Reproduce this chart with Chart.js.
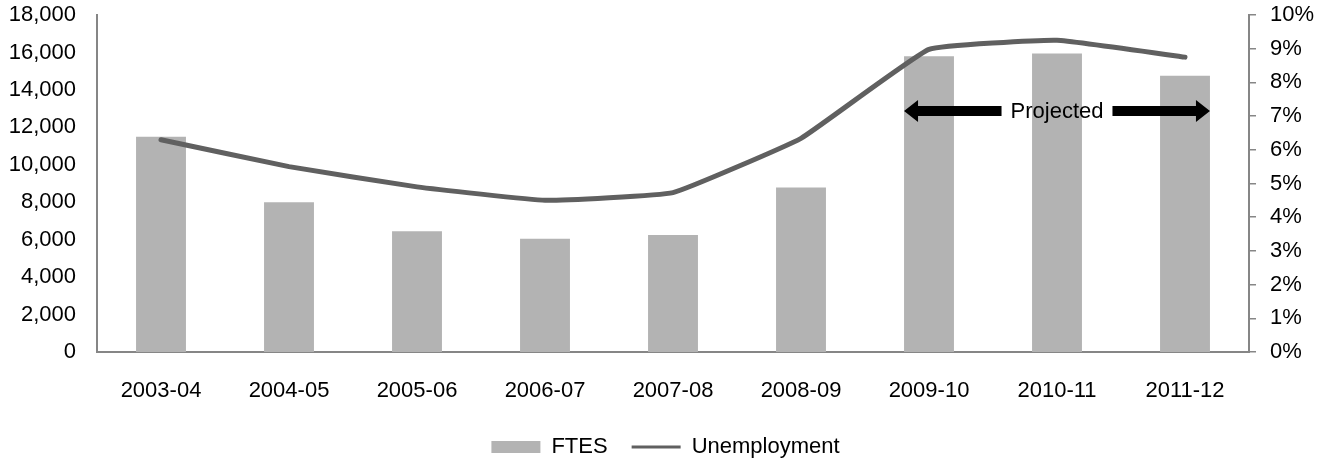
<!DOCTYPE html>
<html>
<head>
<meta charset="utf-8">
<script src="https://cdn.jsdelivr.net/npm/chart.js@4/dist/chart.umd.min.js"></script>
<style>
  html, body { margin: 0; padding: 0; background: #fff; }
  #wrap { width: 1331px; height: 461px; }
</style>
</head>
<body>
<div id="wrap"><canvas id="grafica" width="1331" height="461"></canvas></div>
<script>
// Datos
const anios = ['2003-04', '2004-05', '2005-06', '2006-07', '2007-08', '2008-09', '2009-10', '2010-11', '2011-12'];
const ftes = [11500, 8000, 6450, 6050, 6250, 8780, 15800, 15950, 14750];
const desempleo = [6.3, 5.5, 4.9, 4.5, 4.73, 6.34, 8.98, 9.25, 8.75];
const inicioProyectado = 6;   // primer año proyectado
const finProyectado = 8;      // último año proyectado
const alturaFlecha = 7.15;    // en el eje de desempleo

const GRIS_EJE = '#868686';
const fuente = { family: 'Liberation Sans, Arial, sans-serif', size: 22 };

// Flechas "Projected" sobre los años proyectados
const flechas = {
    id: 'flechas',
    afterDatasetsDraw(chart) {
        const ctx = chart.ctx;
        const y1 = chart.scales.y1;
        const barras = chart.getDatasetMeta(0).data;
        const x0 = barras[inicioProyectado].x - barras[inicioProyectado].width / 2;
        const x1 = barras[finProyectado].x + barras[finProyectado].width / 2;
        const y = y1.getPixelForValue(alturaFlecha);
        const medio = (x0 + x1) / 2;

        ctx.save();
        ctx.font = '22px Liberation Sans, Arial, sans-serif';
        ctx.textAlign = 'center';
        ctx.textBaseline = 'middle';
        const ancho = ctx.measureText('Projected').width;
        const hueco = 9, cabeza = 14, alto = 11, grosor = 5;

        ctx.fillStyle = '#000';
        // flecha izquierda
        const finIzq = medio - ancho / 2 - hueco;
        ctx.beginPath();
        ctx.moveTo(x0, y);
        ctx.lineTo(x0 + cabeza, y - alto);
        ctx.lineTo(x0 + cabeza, y - grosor);
        ctx.lineTo(finIzq, y - grosor);
        ctx.lineTo(finIzq, y + grosor);
        ctx.lineTo(x0 + cabeza, y + grosor);
        ctx.lineTo(x0 + cabeza, y + alto);
        ctx.closePath();
        ctx.fill();
        // flecha derecha
        const iniDer = medio + ancho / 2 + hueco;
        ctx.beginPath();
        ctx.moveTo(x1, y);
        ctx.lineTo(x1 - cabeza, y - alto);
        ctx.lineTo(x1 - cabeza, y - grosor);
        ctx.lineTo(iniDer, y - grosor);
        ctx.lineTo(iniDer, y + grosor);
        ctx.lineTo(x1 - cabeza, y + grosor);
        ctx.lineTo(x1 - cabeza, y + alto);
        ctx.closePath();
        ctx.fill();

        ctx.fillText('Projected', medio, y + 1);
        ctx.restore();
    }
};

// el margen superior lo marca solo la mitad de la etiqueta
function ajustarMargen(scale) {
    scale.paddingTop = 15;
    scale.paddingBottom = 13;
}

const ctx = document.getElementById('grafica').getContext('2d');

new Chart(ctx, {
    type: 'bar',
    data: {
        labels: anios,
        datasets: [{
            label: 'FTES',
            data: ftes,
            backgroundColor: '#b3b3b3',
            borderWidth: 0,
            barPercentage: 0.78,
            categoryPercentage: 0.5,
            yAxisID: 'y',
            order: 2
        }, {
            type: 'line',
            label: 'Unemployment',
            data: desempleo,
            borderColor: '#606060',
            backgroundColor: '#606060',
            borderWidth: 5,
            borderCapStyle: 'round',
            borderJoinStyle: 'round',
            tension: 0.1,
            pointRadius: 0,
            yAxisID: 'y1',
            order: 1
        }]
    },
    options: {
        responsive: false,
        animation: false,
        layout: { padding: { top: 0, left: 0, right: 0, bottom: -7 } },
        plugins: {
            tooltip: { enabled: false },
            legend: {
                position: 'bottom',
                labels: {
                    color: '#000',
                    font: fuente,
                    usePointStyle: true,
                    pointStyleWidth: 49,
                    boxHeight: 12,
                    padding: 24,
                    generateLabels(chart) {
                        return chart.data.datasets.map((ds, i) => ({
                            text: ds.label,
                            fillStyle: ds.type === 'line' ? 'transparent' : ds.backgroundColor,
                            strokeStyle: ds.type === 'line' ? ds.borderColor : 'transparent',
                            lineWidth: ds.type === 'line' ? 3 : 0,
                            pointStyle: ds.type === 'line' ? 'line' : 'rect',
                            datasetIndex: i,
                            hidden: false
                        }));
                    }
                }
            }
        },
        scales: {
            x: {
                grid: { display: false, drawTicks: false },
                border: { color: GRIS_EJE, width: 2 },
                ticks: { color: '#000', font: fuente, padding: 26, maxRotation: 0 },
                afterFit(scale) { scale.height = 60; }
            },
            y: {
                position: 'left',
                min: 0,
                max: 18000,
                grid: { display: false, drawTicks: false },
                border: { color: GRIS_EJE, width: 2 },
                ticks: {
                    stepSize: 2000,
                    color: '#000',
                    font: fuente,
                    padding: 21,
                    callback: v => v.toLocaleString('en-US')
                },
                afterFit(scale) { scale.width = 97; ajustarMargen(scale); }
            },
            y1: {
                position: 'right',
                min: 0,
                max: 10,
                grid: { drawOnChartArea: false, color: GRIS_EJE, tickLength: 7, lineWidth: 1.5 },
                border: { color: GRIS_EJE, width: 2 },
                ticks: {
                    stepSize: 1,
                    color: '#000',
                    font: fuente,
                    padding: 14,
                    callback: v => v + '%'
                },
                afterFit(scale) { scale.width = 82; ajustarMargen(scale); }
            }
        }
    },
    plugins: [flechas]
});
</script>
</body>
</html>
